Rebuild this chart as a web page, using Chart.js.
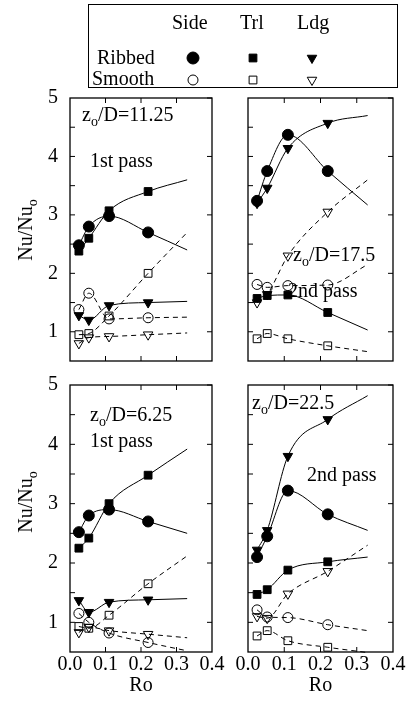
<!DOCTYPE html>
<html>
<head>
<meta charset="utf-8">
<script src="https://cdn.jsdelivr.net/npm/chart.js@4/dist/chart.umd.min.js"></script>
<style>
  body { margin: 0; background: #fff; }
  #wrap { position: relative; width: 407px; height: 703px; overflow: hidden; font-family: "Liberation Serif", "DejaVu Serif", serif; color: #000; }
  canvas.panel { position: absolute; }
  .txt { position: absolute; font-size: 20px; line-height: 1; white-space: nowrap; }
  .txt sub { font-size: 14px; vertical-align: -5px; line-height: 0; }
  .ytitle { position: absolute; font-size: 20px; line-height: 1; white-space: nowrap; transform: translate(-50%, -50%) rotate(-90deg); }
  .ytitle sub { font-size: 14px; vertical-align: -5px; line-height: 0; }
  #legendBox { position: absolute; left: 88px; top: 4px; width: 308px; height: 82px; border: 1px solid #000; }
  #legendMarks { position: absolute; left: 0; top: 0; }
</style>
</head>
<body>
<div id="wrap">
  <div id="legendBox"></div>
  <canvas id="legendMarks" width="407" height="90"></canvas>
  <div class="txt" style="left:172px;top:12px">Side</div>
  <div class="txt" style="left:240px;top:12px">Trl</div>
  <div class="txt" style="left:297px;top:12px">Ldg</div>
  <div class="txt" style="left:97px;top:47px">Ribbed</div>
  <div class="txt" style="left:92px;top:68px">Smooth</div>

  <canvas class="panel" id="tl" width="222" height="300"></canvas>
  <canvas class="panel" id="tr" width="190" height="300"></canvas>
  <canvas class="panel" id="bl" width="222" height="340"></canvas>
  <canvas class="panel" id="br" width="190" height="340"></canvas>

  <div class="ytitle" style="left:25px;top:230px">Nu/Nu<sub>o</sub></div>
  <div class="ytitle" style="left:25px;top:502px">Nu/Nu<sub>o</sub></div>

  <div class="txt" style="left:82px;top:104px">z<sub>o</sub>/D=11.25</div>
  <div class="txt" style="left:90px;top:150px">1st pass</div>
  <div class="txt" style="left:293px;top:244px">z<sub>o</sub>/D=17.5</div>
  <div class="txt" style="left:288px;top:280px">2nd pass</div>
  <div class="txt" style="left:90px;top:404px">z<sub>o</sub>/D=6.25</div>
  <div class="txt" style="left:90px;top:430px">1st pass</div>
  <div class="txt" style="left:252px;top:392px">z<sub>o</sub>/D=22.5</div>
  <div class="txt" style="left:307px;top:464px">2nd pass</div>
</div>

<script>
// Ro positions; the last entry is where each fitted curve ends (no marker there)
const roValues = [0.025, 0.053, 0.11, 0.22, 0.33];
const markerCount = 4;

const xTickLabels = [0.0, 0.1, 0.2, 0.3, 0.4];
const xInnerTicks = [0.1, 0.2, 0.3];
const yTickLabels = [1, 2, 3, 4, 5];
const yHalfTicks = [1, 1.5, 2, 2.5, 3, 3.5, 4, 4.5];

// z_o/D = 11.25, 1st pass
const tlRibSide = [2.48, 2.8, 2.98, 2.7, 2.4];
const tlRibTrl  = [2.38, 2.6, 3.07, 3.4, 3.6];
const tlRibLdg  = [1.28, 1.2, 1.45, 1.5, 1.52];
const tlSmSide  = [1.38, 1.66, 1.22, 1.24, 1.25];
const tlSmTrl   = [0.95, 0.97, 1.27, 2.0, 2.7];
const tlSmLdg   = [0.8, 0.9, 0.92, 0.95, 0.98];

// z_o/D = 17.5, 2nd pass
const trRibSide = [3.24, 3.75, 4.37, 3.75, 3.17];
const trRibTrl  = [1.57, 1.62, 1.63, 1.33, 1.03];
const trRibLdg  = [3.2, 3.46, 4.14, 4.57, 4.7];
const trSmSide  = [1.81, 1.76, 1.79, 1.8, 2.15];
const trSmTrl   = [0.88, 0.97, 0.88, 0.76, 0.66];
const trSmLdg   = [1.5, 1.64, 2.3, 3.05, 3.6];

// z_o/D = 6.25, 1st pass
const blRibSide = [2.52, 2.8, 2.9, 2.7, 2.5];
const blRibTrl  = [2.25, 2.42, 3.0, 3.48, 3.92];
const blRibLdg  = [1.37, 1.17, 1.34, 1.38, 1.4];
const blSmSide  = [1.15, 1.0, 0.82, 0.66, 0.52];
const blSmTrl   = [0.93, 0.9, 1.12, 1.65, 2.12];
const blSmLdg   = [0.83, 0.92, 0.86, 0.8, 0.74];

// z_o/D = 22.5, 2nd pass
const brRibSide = [2.1, 2.45, 3.22, 2.82, 2.55];
const brRibTrl  = [1.47, 1.55, 1.88, 2.02, 2.1];
const brRibLdg  = [2.22, 2.55, 3.8, 4.42, 4.82];
const brSmSide  = [1.21, 1.09, 1.08, 0.96, 0.86];
const brSmTrl   = [0.77, 0.86, 0.69, 0.58, 0.49];
const brSmLdg   = [1.1, 1.07, 1.48, 1.86, 2.3];

// marker look for each of the six series (order: Side, Trl, Ldg / ribbed then smooth)
const seriesLook = [
  { pointStyle: 'circle',   radius: 5.5, rotation: 0,   filled: true,  dash: [] },
  { pointStyle: 'rect',     radius: 5.5, rotation: 0,   filled: true,  dash: [] },
  { pointStyle: 'triangle', radius: 5.5, rotation: 180, filled: true,  dash: [] },
  { pointStyle: 'circle',   radius: 5,   rotation: 0,   filled: false, dash: [5, 4] },
  { pointStyle: 'rect',     radius: 5.5, rotation: 0,   filled: false, dash: [5, 4] },
  { pointStyle: 'triangle', radius: 5.5, rotation: 180, filled: false, dash: [5, 4] }
];

// where each plot frame sits on the page
const panelBoxes = {
  tl: { x: 70,  y: 98,  w: 142, h: 263 },
  tr: { x: 248, y: 98,  w: 145, h: 263 },
  bl: { x: 70,  y: 385, w: 142, h: 267 },
  br: { x: 248, y: 385, w: 145, h: 267 }
};

// frame + inward tick marks
const framePlugin = {
  id: 'frame',
  beforeDatasetsDraw(chart) {
    const { ctx, chartArea: a, scales } = chart;
    const x = scales.x, y = scales.y;
    ctx.save();
    ctx.strokeStyle = '#000';
    ctx.lineWidth = 1.3;
    ctx.strokeRect(a.left, a.top, a.right - a.left, a.bottom - a.top);
    ctx.lineWidth = 1;
    ctx.beginPath();
    yHalfTicks.forEach(function (v) {
      const p = y.getPixelForValue(v);
      ctx.moveTo(a.left, p); ctx.lineTo(a.left + 5, p);
    });
    yTickLabels.forEach(function (v) {
      const p = y.getPixelForValue(v);
      ctx.moveTo(a.right, p); ctx.lineTo(a.right - 5, p);
    });
    xInnerTicks.forEach(function (v) {
      const p = x.getPixelForValue(v);
      ctx.moveTo(p, a.top); ctx.lineTo(p, a.top + 5);
      ctx.moveTo(p, a.bottom); ctx.lineTo(p, a.bottom - 5);
    });
    ctx.stroke();
    ctx.restore();
  }
};

function makeDatasets(seriesList) {
  return seriesList.map(function (vals, i) {
    const look = seriesLook[i];
    return {
      data: roValues.map(function (r, j) { return { x: r, y: vals[j] }; }),
      showLine: true,
      cubicInterpolationMode: 'monotone',
      borderColor: '#000',
      borderWidth: 1,
      borderDash: look.dash,
      pointStyle: look.pointStyle,
      rotation: look.rotation,
      pointRadius: roValues.map(function (r, j) { return j < markerCount ? look.radius : 0; }),
      pointBorderColor: '#000',
      pointBorderWidth: 1,
      pointBackgroundColor: look.filled ? '#000' : 'rgba(0,0,0,0)'
    };
  });
}

function makePanel(id, seriesList, showX, showY) {
  const canvas = document.getElementById(id);
  const chart = new Chart(canvas, {
    type: 'scatter',
    data: { datasets: makeDatasets(seriesList) },
    plugins: [framePlugin],
    options: {
      responsive: false,
      maintainAspectRatio: false,
      animation: false,
      devicePixelRatio: 1,
      clip: false,
      layout: { padding: 14 },
      plugins: { legend: { display: false }, tooltip: { enabled: false } },
      scales: {
        x: {
          type: 'linear', min: 0, max: 0.4,
          display: showX,
          grid: { display: false, drawTicks: false },
          border: { display: false },
          afterBuildTicks: function (s) { s.ticks = xTickLabels.map(function (v) { return { value: v }; }); },
          afterFit: function (s) { if (showX) s.height = 51; },
          ticks: {
            color: '#000', padding: 1, maxRotation: 0, autoSkip: false,
            font: { family: '"Liberation Serif", serif', size: 20 },
            callback: function (v) { return Number(v).toFixed(1); }
          },
          title: {
            display: true, text: 'Ro', color: '#000',
            padding: { top: 0, bottom: 5 },
            font: { family: '"Liberation Serif", serif', size: 20 }
          }
        },
        y: {
          type: 'linear', min: 0.5, max: 5,
          display: showY,
          grid: { display: false, drawTicks: false },
          border: { display: false },
          afterBuildTicks: function (s) { s.ticks = yTickLabels.map(function (v) { return { value: v }; }); },
          afterFit: function (s) { if (showY) s.width = 56; },
          ticks: {
            color: '#000', padding: 12,
            font: { family: '"Liberation Serif", serif', size: 20 }
          }
        }
      }
    }
  });

  // size and move the canvas so its plot area lands on the frame box
  const box = panelBoxes[id];
  for (let k = 0; k < 2; k++) {
    const a = chart.chartArea;
    const gapR = chart.width - a.right, gapB = chart.height - a.bottom;
    chart.resize(Math.round(box.w + a.left + gapR), Math.round(box.h + a.top + gapB));
  }
  const a = chart.chartArea;
  canvas.style.left = (box.x - a.left) + 'px';
  canvas.style.top = (box.y - a.top) + 'px';
  return chart;
}

makePanel('tl', [tlRibSide, tlRibTrl, tlRibLdg, tlSmSide, tlSmTrl, tlSmLdg], false, true);
makePanel('tr', [trRibSide, trRibTrl, trRibLdg, trSmSide, trSmTrl, trSmLdg], false, false);
makePanel('bl', [blRibSide, blRibTrl, blRibLdg, blSmSide, blSmTrl, blSmLdg], true, true);
makePanel('br', [brRibSide, brRibTrl, brRibLdg, brSmSide, brSmTrl, brSmLdg], true, false);

// legend markers
const lctx = document.getElementById('legendMarks').getContext('2d');
const legendX = [193, 253, 312];
const legendY = [58, 80];
seriesLook.forEach(function (look, i) {
  const cx = legendX[i % 3], cy = legendY[Math.floor(i / 3)];
  lctx.fillStyle = look.filled ? '#000' : 'rgba(0,0,0,0)';
  lctx.strokeStyle = '#000';
  lctx.lineWidth = 1;
  Chart.helpers.drawPoint(lctx, {
    pointStyle: look.pointStyle, radius: look.radius + (i === 0 ? 0.5 : 0),
    rotation: look.rotation, borderWidth: 1
  }, cx, cy);
});
</script>
</body>
</html>
